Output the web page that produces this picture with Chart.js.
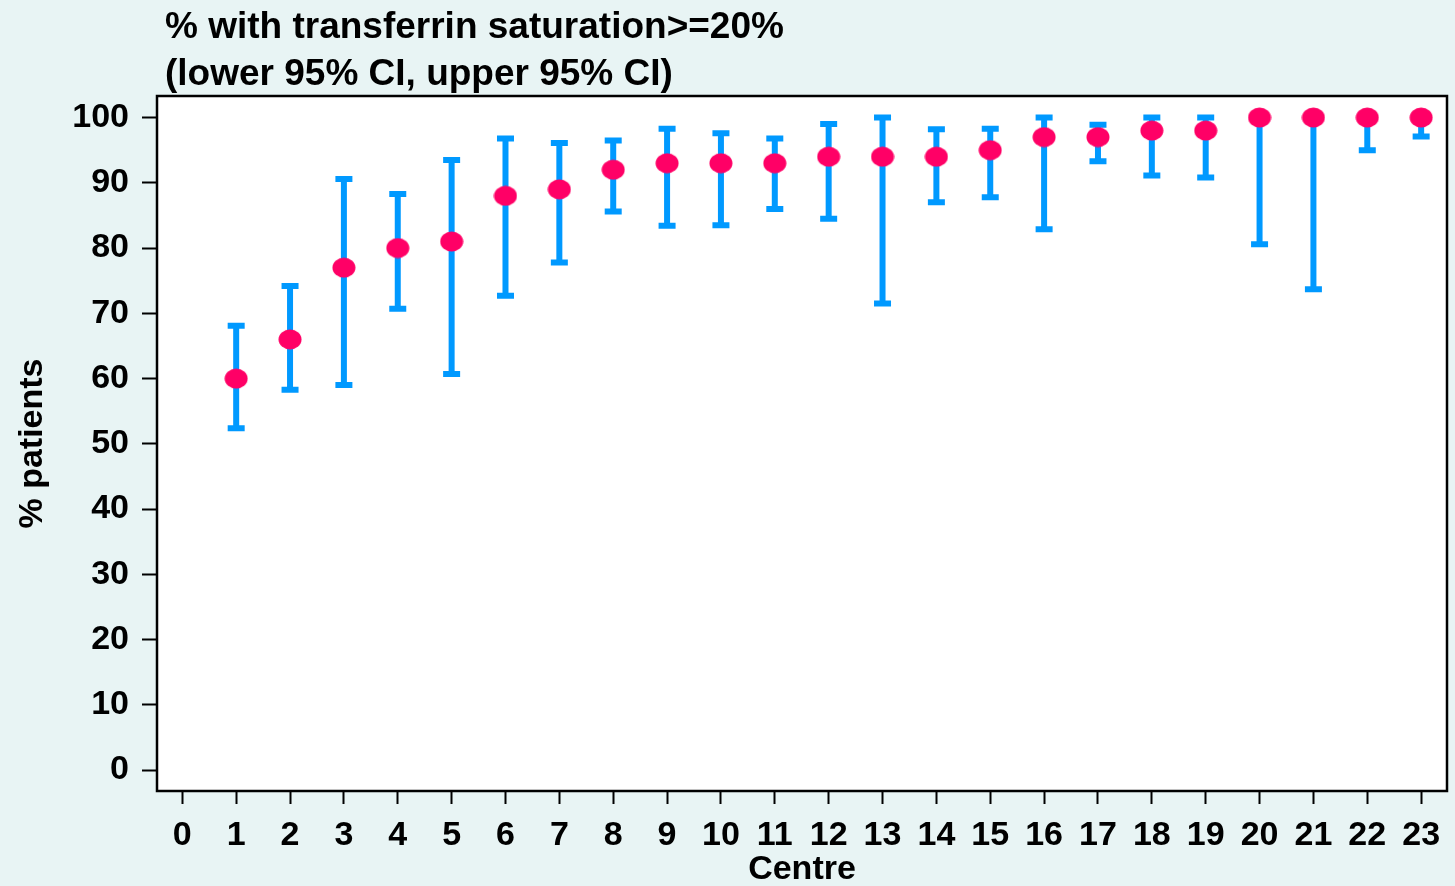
<!DOCTYPE html>
<html lang="en">
<head>
<meta charset="utf-8">
<title>% with transferrin saturation>=20%</title>
<script src="https://cdn.jsdelivr.net/npm/chart.js@4/dist/chart.umd.min.js"></script>
<style>
  html, body { margin: 0; padding: 0; background: #e8f4f4; }
  #chartBox { width: 1455px; height: 886px; }
  canvas { display: block; }
</style>
</head>
<body>
<div id="chartBox"><canvas id="ciChart" width="1455" height="886"></canvas></div>
<script>
// Data
const centres = [1, 2, 3, 4, 5, 6, 7, 8, 9, 10, 11, 12, 13, 14, 15, 16, 17, 18, 19, 20, 21, 22, 23];
const pctPatients = [60, 66, 77, 80, 81, 88, 89, 92, 93, 93, 93, 94, 94, 94, 95, 97, 97, 98, 98, 100, 100, 100, 100];
const lowerCI = [52.4, 58.3, 59.0, 70.7, 60.7, 72.7, 77.8, 85.6, 83.4, 83.5, 86.0, 84.5, 71.5, 87.0, 87.8, 82.9, 93.3, 91.1, 90.8, 80.6, 73.7, 95.0, 97.1];
const upperCI = [68.1, 74.2, 90.6, 88.3, 93.5, 96.8, 96.1, 96.5, 98.3, 97.6, 96.8, 99.0, 100, 98.2, 98.3, 100, 98.9, 100, 100, 100, 100, 100, 100];
const xTickValues = [0, 1, 2, 3, 4, 5, 6, 7, 8, 9, 10, 11, 12, 13, 14, 15, 16, 17, 18, 19, 20, 21, 22, 23];
const yTickValues = [0, 10, 20, 30, 40, 50, 60, 70, 80, 90, 100];
const titleLines = ['% with transferrin saturation>=20%', '(lower 95% CI, upper 95% CI)'];

const FONT_FAMILY = "'Liberation Sans', Arial, Helvetica, sans-serif";
const PAGE_BG = '#e8f4f4';
const DOT_COLOUR = '#ff0066';
const BAR_COLOUR = '#0099ff';

document.addEventListener('DOMContentLoaded', function() {
  initCiChart();
});

/**
 * Ellipse marker used as the point style
 */
function makeDot() {
  const dot = document.createElement('canvas');
  dot.width = 24;
  dot.height = 21;
  const dctx = dot.getContext('2d');
  dctx.fillStyle = DOT_COLOUR;
  dctx.beginPath();
  dctx.ellipse(12, 10.5, 11.5, 10, 0, 0, Math.PI * 2);
  dctx.fill();
  return dot;
}

// page background + white plot area + frame
const plotFrame = {
  id: 'plotFrame',
  beforeDraw(chart) {
    const { ctx, chartArea: a } = chart;
    ctx.save();
    ctx.fillStyle = PAGE_BG;
    ctx.fillRect(0, 0, chart.width, chart.height);
    ctx.fillStyle = '#ffffff';
    ctx.fillRect(a.left, a.top, a.right - a.left, a.bottom - a.top);
    ctx.restore();
  },
  afterDraw(chart) {
    const { ctx, chartArea: a } = chart;
    ctx.save();
    ctx.strokeStyle = '#000000';
    ctx.lineWidth = 2.5;
    ctx.strokeRect(a.left, a.top, a.right - a.left, a.bottom - a.top);
    ctx.restore();
  }
};

// 95% CI bars, drawn under the markers
const errorBars = {
  id: 'errorBars',
  beforeDatasetsDraw(chart) {
    const { ctx, scales: { x, y } } = chart;
    const capHalf = 8.5;
    ctx.save();
    ctx.strokeStyle = BAR_COLOUR;
    ctx.lineWidth = 6;
    ctx.lineCap = 'butt';
    centres.forEach((c, i) => {
      const px = x.getPixelForValue(c);
      const top = y.getPixelForValue(upperCI[i]);
      const bot = y.getPixelForValue(lowerCI[i]);
      ctx.beginPath();
      ctx.moveTo(px, top);
      ctx.lineTo(px, bot);
      ctx.moveTo(px - capHalf, top);
      ctx.lineTo(px + capHalf, top);
      ctx.moveTo(px - capHalf, bot);
      ctx.lineTo(px + capHalf, bot);
      ctx.stroke();
    });
    ctx.restore();
  }
};

// two-line heading, left aligned just inside the plot frame
const headTitle = {
  id: 'headTitle',
  afterDraw(chart) {
    const ctx = chart.ctx;
    ctx.save();
    ctx.fillStyle = '#000000';
    ctx.font = 'bold 37px ' + FONT_FAMILY;
    ctx.textAlign = 'left';
    ctx.textBaseline = 'alphabetic';
    titleLines.forEach((line, i) => {
      ctx.fillText(line, 165, 38 + i * 47);
    });
    ctx.restore();
  }
};

/**
 * Build the chart
 */
function initCiChart() {
  const el = document.getElementById('ciChart');
  if (!el) return;

  const points = centres.map((c, i) => ({ x: c, y: pctPatients[i] }));
  const tickFont = { family: FONT_FAMILY, size: 34, weight: 'bold' };
  const axisTitleFont = { family: FONT_FAMILY, size: 34, weight: 'bold' };

  new Chart(el.getContext('2d'), {
    type: 'scatter',
    data: {
      datasets: [{
        label: '% patients',
        data: points,
        pointStyle: makeDot(),
        backgroundColor: DOT_COLOUR,
        borderColor: DOT_COLOUR
      }]
    },
    options: {
      responsive: false,
      devicePixelRatio: 1,
      animation: false,
      layout: { padding: { top: 96, right: 8, bottom: 0, left: 0 } },
      plugins: {
        legend: { display: false },
        tooltip: { enabled: false }
      },
      scales: {
        x: {
          type: 'linear',
          min: -0.47,
          max: 23.48,
          afterBuildTicks: scale => { scale.ticks = xTickValues.map(v => ({ value: v })); },
          afterFit: scale => { scale.height = 95; },
          border: { display: false },
          grid: { drawOnChartArea: false, drawTicks: true, tickLength: 13, tickColor: '#000', tickWidth: 2 },
          ticks: { color: '#000', font: tickFont, padding: 11, autoSkip: false, maxRotation: 0, minRotation: 0 },
          title: {
            display: true,
            text: 'Centre',
            color: '#000',
            font: axisTitleFont,
            padding: { top: -4, bottom: -4 }
          }
        },
        y: {
          min: -3.2,
          max: 103.3,
          afterBuildTicks: scale => { scale.ticks = yTickValues.map(v => ({ value: v })); },
          afterFit: scale => { scale.width = 157; },
          border: { display: false },
          grid: { drawOnChartArea: false, drawTicks: true, tickLength: 15, tickColor: '#000', tickWidth: 2 },
          ticks: { color: '#000', font: tickFont, padding: 13 },
          title: {
            display: true,
            text: '% patients',
            color: '#000',
            font: axisTitleFont,
            padding: { top: 12, bottom: 0 }
          }
        }
      }
    },
    plugins: [plotFrame, errorBars, headTitle]
  });
}
</script>
</body>
</html>
